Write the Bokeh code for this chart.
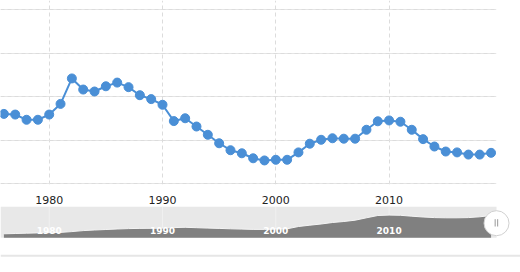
from bokeh.plotting import figure
from bokeh.layouts import column
from bokeh.models import Range1d, FixedTicker, Grid, Span, ColumnDataSource
from bokeh.core.properties import value
from bokeh.embed import file_html
from bokeh.resources import INLINE

# ---- data ----
years = list(range(1976, 2020))
values = [13.20, 13.17, 12.93, 12.93, 13.17, 13.66, 14.83, 14.32, 14.23, 14.47,
          14.64, 14.43, 14.06, 13.88, 13.62, 12.87, 13.00, 12.62, 12.24, 11.85,
          11.53, 11.39, 11.16, 11.06, 11.09, 11.09, 11.43, 11.83, 12.01, 12.08,
          12.06, 12.06, 12.47, 12.86, 12.90, 12.84, 12.47, 12.04, 11.70, 11.47,
          11.43, 11.33, 11.33, 11.41]
nav_values = [4.0, 4.3, 4.6, 4.9, 5.1, 5.4, 6.2, 7.2, 7.8, 8.3,
              8.8, 9.2, 9.4, 9.5, 9.6, 10.2, 10.5, 10.1, 9.7, 9.4,
              9.0, 8.7, 8.4, 8.4, 8.7, 9.0, 11.3, 12.6, 13.8, 15.3,
              16.3, 17.6, 20.0, 22.3, 22.7, 22.5, 21.6, 20.8, 20.2, 20.0,
              20.0, 20.2, 21.0, 22.3]
x_ticks = [1980, 1990, 2000, 2010]
x_tick_labels = ["1980", "1990", "2000", "2010"]
y_grid_values = [10, 12, 14, 16, 18]

x_start = 1975.70
x_end = 2019.48
nav_top = 31.3
nav_line_level = -18.0

LINE = "#4a8fd6"
FONT = "DejaVu Sans"

# ---- main chart ----
p = figure(frame_width=496, frame_height=184, output_backend="svg", toolbar_location=None,
           x_range=Range1d(x_start, x_end), y_range=Range1d(9.954, 18.414),
           y_axis_location=None, min_border_left=0, min_border_right=24,
           min_border_top=0, min_border_bottom=22)
p.outline_line_color = None
p.background_fill_color = "white"
p.border_fill_color = "white"

p.xaxis.ticker = FixedTicker(ticks=x_ticks)
p.xaxis.major_label_overrides = {t: l for t, l in zip(x_ticks, x_tick_labels)}
p.xaxis.axis_line_color = None
p.xaxis.major_tick_line_color = None
p.xaxis.minor_tick_line_color = None
p.xaxis.major_label_text_font = FONT
p.xaxis.major_label_text_font_size = "11px"
p.xaxis.major_label_text_color = "#222222"
p.xaxis.major_label_standoff = 5

p.xgrid.ticker = FixedTicker(ticks=x_ticks)
p.xgrid.grid_line_color = "#dcdcdc"
p.xgrid.grid_line_dash = "4 3"
p.add_layout(Grid(dimension=1, ticker=FixedTicker(ticks=y_grid_values),
                  grid_line_color="#dcdcdc", grid_line_dash="4 3"))

src = ColumnDataSource(dict(x=years, y=values))
p.line("x", "y", source=src, line_color=LINE, line_width=2)
p.scatter("x", "y", source=src, size=9, fill_color=LINE, line_color=LINE)

# ---- navigator ----
n = figure(frame_width=520, frame_height=66, output_backend="svg", toolbar_location=None,
           x_range=Range1d(x_start, x_start + 520 / 11.33),
           y_range=Range1d(-34.7, nav_top),
           x_axis_location=None, y_axis_location=None,
           min_border_left=0, min_border_right=0, min_border_top=0, min_border_bottom=0)
n.outline_line_color = None
n.xgrid.visible = False
n.ygrid.visible = False
n.background_fill_color = "white"
n.border_fill_color = "white"

n.quad(left=[x_start], right=[x_end], bottom=[0], top=[nav_top],
       fill_color="#e8e8e8", line_color=None)
n.segment(x0=x_ticks, x1=x_ticks, y0=[0] * 4, y1=[nav_top] * 4,
          line_color="#f0f0f0", line_width=1)
nsrc = ColumnDataSource(dict(x=years, y=nav_values, z=[0] * len(years)))
n.varea(x="x", y1="z", y2="y", source=nsrc, fill_color="#808080")
n.line("x", "y", source=nsrc, line_color="#f4f4f4", line_width=1)
n.text(x=x_ticks, y=[7.3] * 4, text=x_tick_labels, text_color="white",
       text_font=value(FONT), text_font_size="9px", text_font_style="bold",
       text_align="center", text_baseline="middle")
n.add_layout(Span(location=nav_line_level, dimension="width",
                  line_color="#e6e6e6", line_width=2))
# right handle
n.scatter(x=[x_end], y=[14.6], size=25, fill_color="white", line_color="#d0d0d0",
          line_width=1)
n.segment(x0=[x_end - 0.12, x_end + 0.10], x1=[x_end - 0.12, x_end + 0.10],
          y0=[11.3, 11.3], y1=[18.6, 18.6], line_color="#999999", line_width=1)

layout = column(p, n, spacing=0)
open("out.html", "w").write(file_html(layout, INLINE))
